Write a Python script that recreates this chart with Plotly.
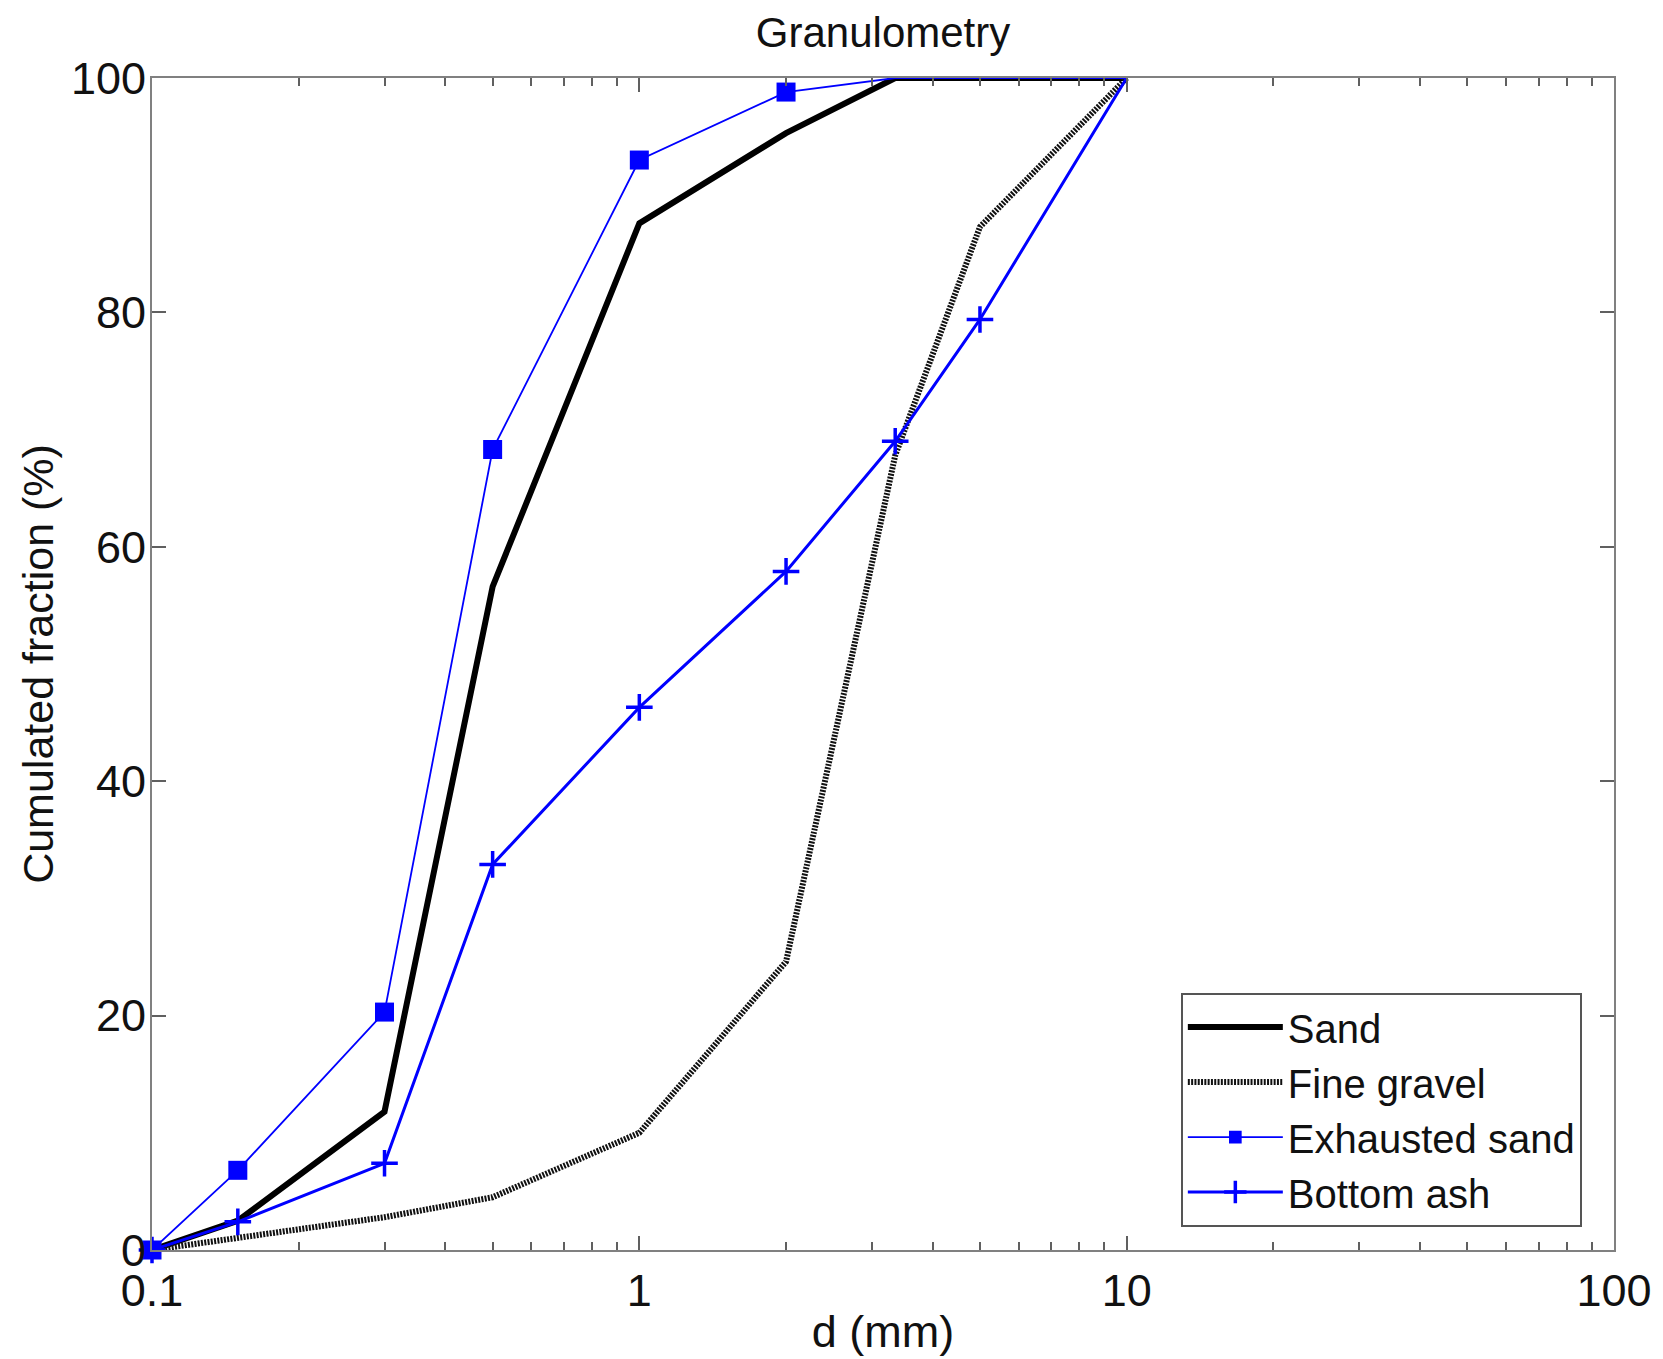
import plotly.graph_objects as go

# Sieve sizes (mm)
sieve_mm = [0.1, 0.15, 0.3, 0.5, 1, 2, 3.35, 5, 10]

# Cumulated passing fractions (%)
sand = [0, 2.5, 11.8, 56.6, 87.6, 95.3, 100, 100, 100]
fine_gravel = [0, 1.0, 2.8, 4.5, 10.0, 24.6, 67.8, 87.3, 100]
exhausted_sand = [0, 6.8, 20.3, 68.3, 93.0, 98.8, 100, 100, 100]
bottom_ash = [0, 2.4, 7.4, 32.9, 46.3, 57.9, 69.0, 79.4, 100]

x_major = [0.1, 1, 10, 100]
x_major_text = ["0.1", "1", "10", "100"]
x_minor = [m * d for d in (0.1, 1, 10) for m in range(2, 10)]
y_ticks = [0, 20, 40, 60, 80, 100]

FONT = "Liberation Sans, Arial, Helvetica, sans-serif"
BLUE = "#0000ff"
TXT = "#111111"


def marker_sizes(vals, size):
    # markers on points that sit on the top frame are not visible in the reference
    return [0 if v >= 100 else size for v in vals]


fig = go.Figure()

fig.add_trace(go.Scatter(
    x=sieve_mm, y=sand, name="Sand", mode="lines",
    line=dict(color="black", width=6), cliponaxis=False))

fig.add_trace(go.Scatter(
    x=sieve_mm, y=fine_gravel, name="Fine gravel", mode="lines",
    line=dict(color="#111111", width=6, dash="2px,1.3px"), cliponaxis=False))

fig.add_trace(go.Scatter(
    x=sieve_mm, y=exhausted_sand, name="Exhausted sand", mode="lines+markers",
    line=dict(color=BLUE, width=1.8),
    marker=dict(symbol="square", size=marker_sizes(exhausted_sand, 19), color=BLUE,
                opacity=1, line=dict(width=0)),
    cliponaxis=False))

fig.add_trace(go.Scatter(
    x=sieve_mm, y=bottom_ash, name="Bottom ash", mode="lines+markers",
    line=dict(color=BLUE, width=3),
    marker=dict(symbol="cross-thin", size=marker_sizes(bottom_ash, 19), color=BLUE,
                opacity=1, line=dict(width=3.5, color=BLUE)),
    cliponaxis=False))

axis_common = dict(
    showline=True, linecolor="#808080", linewidth=2, mirror="ticks",
    ticks="inside", tickcolor="#606060", tickwidth=2,
    showgrid=False, zeroline=False,
    tickfont=dict(family=FONT, size=45, color=TXT),
)

fig.update_xaxes(
    type="log", range=[-1, 2],
    tickmode="array", tickvals=x_major, ticktext=x_major_text,
    ticklen=14,
    minor=dict(tickmode="array", tickvals=x_minor, ticks="inside", ticklen=8,
               tickcolor="#606060", tickwidth=2, showgrid=False),
    title=dict(text="d (mm)", font=dict(family=FONT, size=45, color=TXT), standoff=0),
    **axis_common)

fig.update_yaxes(
    range=[0, 100], tickmode="array", tickvals=y_ticks, ticklen=14,
    ticklabelstandoff=-5,
    title=dict(text="Cumulated fraction (%)", font=dict(family=FONT, size=43, color=TXT),
               standoff=4),
    **axis_common)

fig.update_layout(
    width=1663, height=1359,
    margin=dict(l=152, r=49, t=78, b=109),
    paper_bgcolor="white", plot_bgcolor="white",
    title=dict(text="Granulometry", x=0.531, xanchor="center", y=1 - 32 / 1359, yanchor="middle",
               font=dict(family=FONT, size=42, color=TXT)),
    legend=dict(
        x=0.978, y=0.02, xanchor="right", yanchor="bottom",
        bgcolor="white", bordercolor="#555555", borderwidth=2,
        font=dict(family=FONT, size=40, color=TXT),
        itemwidth=95, tracegroupgap=0,
    ),
    showlegend=True,
)

fig.write_html("out.html")
